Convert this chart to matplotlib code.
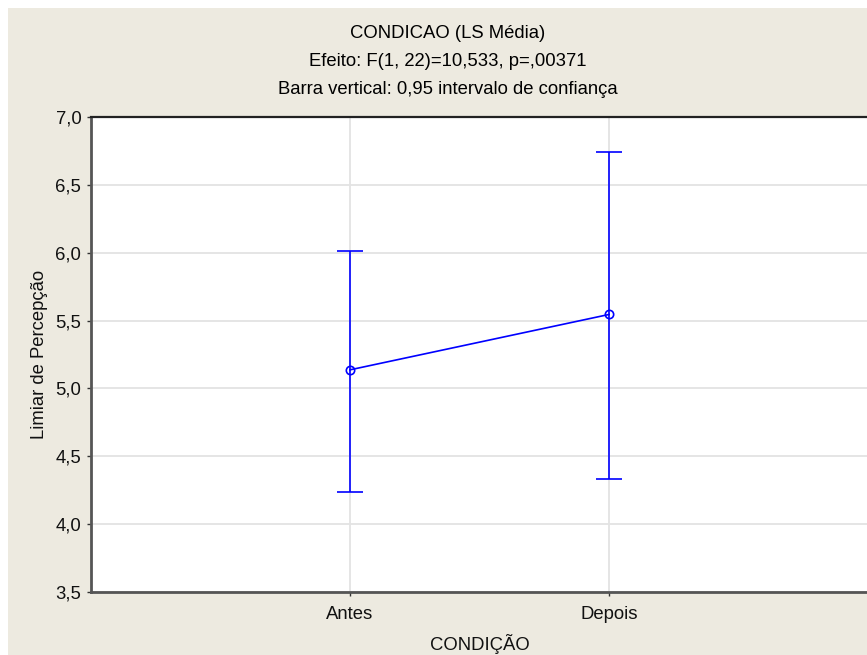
import numpy as np
import matplotlib.pyplot as plt
from matplotlib.patches import Rectangle

plt.rcParams['font.family'] = ['Liberation Sans', 'DejaVu Sans']

# medias e intervalos de confianca (95%)
condicoes = ['Antes', 'Depois']
media = [5.137, 5.545]
ic_inf = [4.235, 4.335]
ic_sup = [6.015, 6.743]
yticks = [3.5, 4.0, 4.5, 5.0, 5.5, 6.0, 6.5, 7.0]

W, H = 867, 655
fig = plt.figure(figsize=(W / 100, H / 100), dpi=100)
fig.patch.set_facecolor('white')
# fundo bege
fig.patches.append(Rectangle((8 / W, -0.01), 1.1, 1.01 - 8 / H, transform=fig.transFigure,
                             facecolor='#EDEAE0', edgecolor='none', zorder=-5))

ax = fig.add_axes([91 / W, 1 - 592 / H, 777 / W, 475 / H])
ax.set_zorder(2)
ax.set_facecolor('white')

x = np.arange(1, len(condicoes) + 1)
m = np.array(media)
err = np.vstack([m - np.array(ic_inf), np.array(ic_sup) - m])
ax.errorbar(x, m, yerr=err, color='#0000FF', lw=1.2, elinewidth=1.2,
            capsize=9.4, capthick=1.8, marker='o', markersize=6,
            markerfacecolor='none', markeredgecolor='#0000FF', markeredgewidth=1.2,
            zorder=3)

ax.set_xlim(0, 3)
ax.set_ylim(3.5, 7.0)
ax.set_xticks(x)
ax.set_xticklabels(condicoes)
ax.set_yticks(yticks)
ax.set_yticklabels([('%.1f' % v).replace('.', ',') for v in yticks])
ax.grid(True, color='#E3E3E3', lw=1.3)
ax.set_axisbelow(True)

for s in ['left', 'bottom']:
    ax.spines[s].set_color('#555555')
    ax.spines[s].set_linewidth(2)
ax.spines['top'].set_color('#222222')
ax.spines['top'].set_linewidth(1.6)
ax.spines['right'].set_visible(False)
ax.tick_params(axis='both', length=3, width=1, color='#333333',
               labelsize=13.3, labelcolor='#111111', pad=4)
ax.tick_params(axis='x', pad=7)
ax.tick_params(axis='y', right=True, direction='out')

ax.set_xlabel('CONDIÇÃO', fontsize=13.3, color='#111111', labelpad=8)
ax.set_ylabel('Limiar de Percepção', fontsize=13.3, color='#111111', labelpad=5)

fig.text(448 / W, 1 - 34 / H, 'CONDICAO (LS Média)', ha='center', va='center', fontsize=13.3)
fig.text(448 / W, 1 - 62 / H, 'Efeito: F(1, 22)=10,533, p=,00371', ha='center', va='center', fontsize=13.3)
fig.text(448 / W, 1 - 89 / H, 'Barra vertical: 0,95 intervalo de confiança', ha='center', va='center', fontsize=13.3)

fig.savefig('out.png', dpi=100)
